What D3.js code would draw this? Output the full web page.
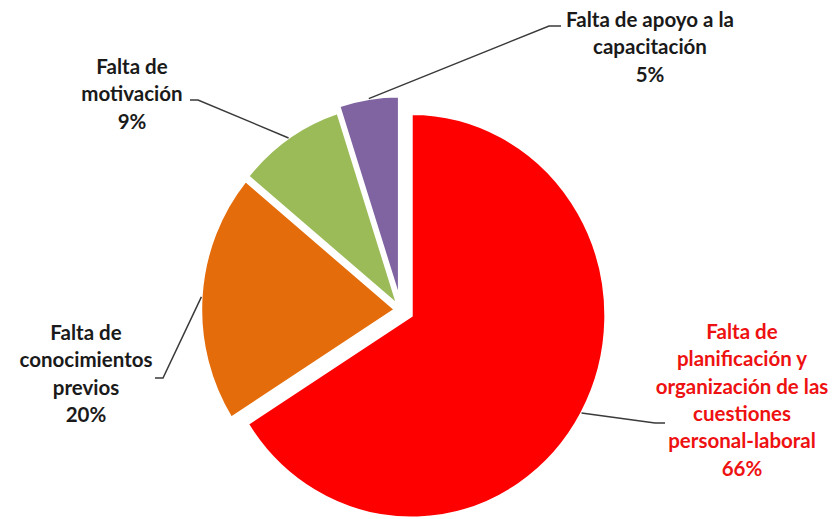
<!DOCTYPE html>
<html><head><meta charset="utf-8">
<script src="https://cdn.jsdelivr.net/npm/d3@7"></script>
<style>body{margin:0;background:#fff}svg{display:block}</style>
</head><body>
<svg id="c" width="833" height="519"></svg>
<script>
// ---- data ----
const categories = [
  "Falta de planificación y organización de las cuestiones personal-laboral",
  "Falta de conocimientos previos",
  "Falta de motivación",
  "Falta de apoyo a la capacitación"
];
const values = [66, 20, 9, 5];
const labelLines = [
  ["Falta de", "planificación y", "organización de las", "cuestiones", "personal-laboral", "66%"],
  ["Falta de", "conocimientos", "previos", "20%"],
  ["Falta de", "motivación", "9%"],
  ["Falta de apoyo a la", "capacitación", "5%"]
];
const colors = ["#FF0000", "#E46C0A", "#9BBB59", "#8064A2"];
const textColors = ["#EE1111", "#1a1a1a", "#1a1a1a", "#1a1a1a"];

// ---- layout ----
const W = 833, H = 519;
const cx = 401, cy = 310, r = 202, sx = 194 / 202;
const explode = [12, 6, 6, 12];
const labelPos = [ [742, 332], [86, 333], [132, 67], [650, 20] ];   // center of first line
const lineH = 27.3;
const leaderEnd = [ [[655, 423], [665, 423]], [[163, 378], [155, 378]], [[198, 100], [190, 100]], [[549, 26], [561, 26]] ];

const svg = d3.select("#c");
const pie = d3.pie().sort(null).value(d => d)(values);
const arc = d3.arc().innerRadius(0).outerRadius(r);

const g = svg.append("g").attr("transform", `translate(${cx},${cy}) scale(${sx},1)`);
pie.forEach((p, i) => {
  const mid = (p.startAngle + p.endAngle) / 2;
  const dx = Math.sin(mid) * explode[i], dy = -Math.cos(mid) * explode[i];
  g.append("path")
    .attr("d", arc(p))
    .attr("transform", `translate(${dx / sx},${dy})`)
    .attr("fill", colors[i])
    .attr("stroke", "#fff")
    .attr("stroke-width", 2.5)
    .attr("stroke-linejoin", "miter");
});

// leader lines
pie.forEach((p, i) => {
  const mid = (p.startAngle + p.endAngle) / 2;
  const ox = cx + Math.sin(mid) * explode[i], oy = cy - Math.cos(mid) * explode[i];
  const start = [ox + Math.sin(mid) * r * sx, oy - Math.cos(mid) * r];
  const pts = [start, ...leaderEnd[i]];
  svg.append("path")
    .attr("d", d3.line()(pts))
    .attr("fill", "none")
    .attr("stroke", "#3a3a3a")
    .attr("stroke-width", 1.5);
});

// labels
labelLines.forEach((lines, i) => {
  const t = svg.append("text")
    .attr("text-anchor", "middle")
    .attr("font-family", "Lato, 'Open Sans', sans-serif")
    .attr("font-weight", "bold")
    .attr("font-size", 20.5)
    .attr("fill", textColors[i]);
  lines.forEach((l, j) => {
    t.append("tspan")
      .attr("x", labelPos[i][0])
      .attr("y", labelPos[i][1] + j * lineH)
      .attr("dy", "0.35em")
      .text(l);
  });
});
</script>
</body></html>
